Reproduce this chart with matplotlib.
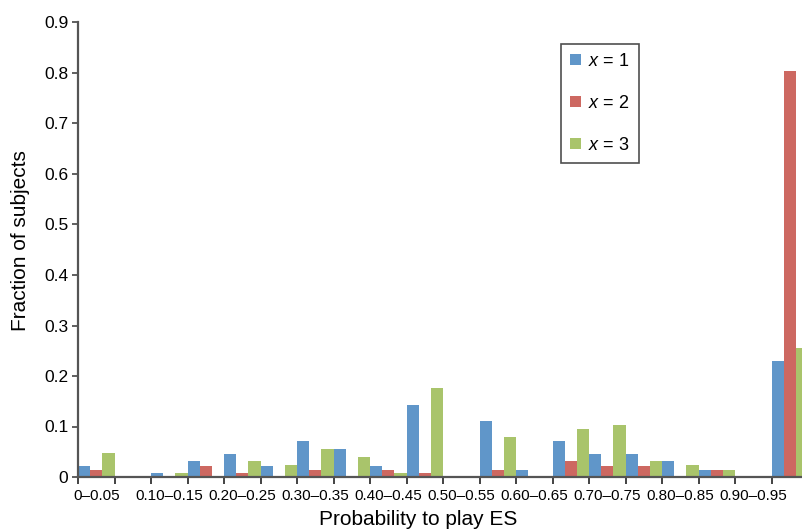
import matplotlib
matplotlib.use("Agg")
import matplotlib.pyplot as plt
import numpy as np

plt.rcParams['font.family'] = ['Liberation Sans', 'DejaVu Sans']
plt.rcParams['mathtext.fontset'] = 'custom'
plt.rcParams['mathtext.rm'] = 'Liberation Sans'
plt.rcParams['mathtext.it'] = 'Liberation Sans:italic'

bins = ["0–0.05", "0.05–0.10", "0.10–0.15", "0.15–0.20", "0.20–0.25", "0.25–0.30",
        "0.30–0.35", "0.35–0.40", "0.40–0.45", "0.45–0.50", "0.50–0.55", "0.55–0.60",
        "0.60–0.65", "0.65–0.70", "0.70–0.75", "0.75–0.80", "0.80–0.85", "0.85–0.90",
        "0.90–0.95", "0.95–1.00"]
x1 = [0.021, 0, 0.007, 0.031, 0.045, 0.021, 0.071, 0.055, 0.021, 0.142,
      0, 0.111, 0.014, 0.071, 0.045, 0.045, 0.031, 0.013, 0, 0.230]
x2 = [0.014, 0, 0, 0.021, 0.007, 0, 0.014, 0, 0.014, 0.007,
      0, 0.014, 0, 0.031, 0.021, 0.021, 0, 0.013, 0, 0.803]
x3 = [0.047, 0, 0.007, 0, 0.031, 0.023, 0.055, 0.039, 0.007, 0.176,
      0, 0.079, 0, 0.095, 0.103, 0.031, 0.023, 0.013, 0, 0.256]
series = [("$x$ = 1", x1, "#6096c9"), ("$x$ = 2", x2, "#cd6861"), ("$x$ = 3", x3, "#a9c46b")]
yticks = [0, 0.1, 0.2, 0.3, 0.4, 0.5, 0.6, 0.7, 0.8, 0.9]

fig = plt.figure(figsize=(8.02, 5.31), dpi=100)
ax = fig.add_axes([78/802, (531-477)/531, (808-78)/802, (477-22.5)/531])

idx = np.arange(len(bins))
w = 1/3
for k, (lab, vals, col) in enumerate(series):
    ax.bar(idx + w*k + w/2, vals, width=w, color=col, label=lab, linewidth=0)

ax.set_xlim(0, len(bins))
ax.set_ylim(0, 0.9)
ax.set_yticks(yticks)
ax.set_yticklabels(["0" if v == 0 else f"{v:.1f}" for v in yticks], fontsize=12.5)
ax.set_xticks(np.arange(len(bins) + 1))
ax.set_xticklabels([])
ax.set_xticks(idx[::2] + 0.5, minor=True)
ax.set_xticklabels(bins[::2], minor=True, fontsize=11)
ax.tick_params(axis='x', which='minor', length=0, pad=9)
ax.tick_params(axis='x', which='major', length=5, width=1.2, color='#222')
ax.tick_params(axis='y', length=4, width=1.2, color='#444', pad=3)

for s in ['top', 'right']:
    ax.spines[s].set_visible(False)
for s in ['left', 'bottom']:
    ax.spines[s].set_color('#555')
    ax.spines[s].set_linewidth(1.6)

ax.set_ylabel("Fraction of subjects", fontsize=15)
ax.yaxis.set_label_coords((30-78)/730, (477-241)/454.5)
ax.set_xlabel("Probability to play ES", fontsize=15)
ax.xaxis.set_label_coords((418-78)/730, -(510-477)/454.5)

leg = ax.legend(loc='upper left', bbox_to_anchor=((561-78)/730, 1 - (44-22.5)/454.5),
                frameon=True, fancybox=False, edgecolor='#222', fontsize=13,
                handlelength=0.6, handleheight=0.6, handletextpad=0.4,
                labelspacing=1.38, borderpad=0.5, borderaxespad=0)
leg.get_frame().set_linewidth(1.2)

fig.savefig("out.png", dpi=100)
